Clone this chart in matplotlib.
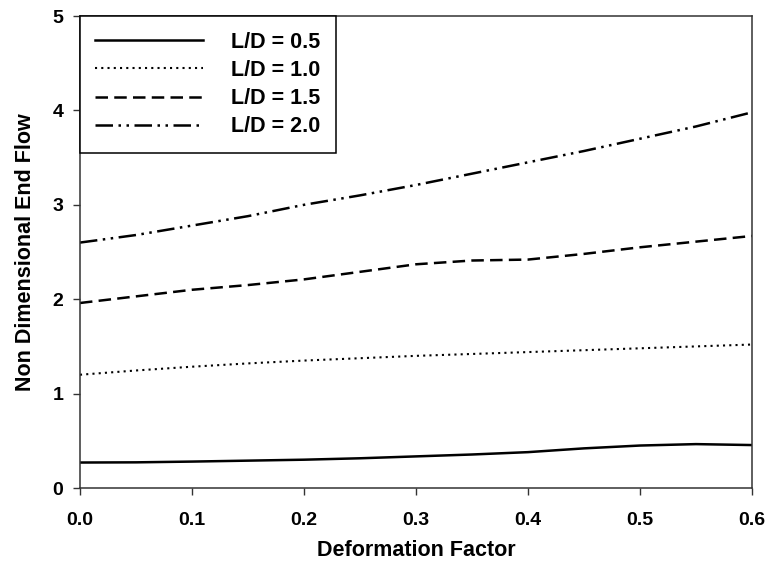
import numpy as np
import matplotlib.pyplot as plt

plt.rcParams['font.family'] = ['Liberation Sans', 'DejaVu Sans']
plt.rcParams['font.weight'] = 'bold'

# deformation factor (x) and end flow for each L/D ratio
deform = [0.0, 0.05, 0.1, 0.15, 0.2, 0.25, 0.3, 0.35, 0.4, 0.45, 0.5, 0.55, 0.6]
flow_05 = [0.27, 0.272, 0.28, 0.29, 0.30, 0.315, 0.335, 0.355, 0.38, 0.42, 0.45, 0.465, 0.455]
flow_10 = [1.20, 1.245, 1.285, 1.32, 1.35, 1.375, 1.40, 1.42, 1.44, 1.46, 1.48, 1.50, 1.52]
flow_15 = [1.96, 2.03, 2.10, 2.15, 2.21, 2.29, 2.37, 2.41, 2.42, 2.48, 2.55, 2.61, 2.67]
flow_20 = [2.60, 2.68, 2.78, 2.88, 3.00, 3.10, 3.21, 3.33, 3.45, 3.57, 3.70, 3.83, 3.98]
labels = ['L/D = 0.5', 'L/D = 1.0', 'L/D = 1.5', 'L/D = 2.0']

fig = plt.figure(figsize=(7.72, 5.74), dpi=100)
ax = fig.add_axes([0.1036, 0.1498, 0.8705, 0.8223])

ax.plot(deform, flow_05, color='black', lw=1.8, ls='-', label=labels[0])
ax.plot(deform, flow_10, color='black', lw=1.5, ls=(0, (1, 2.0)), label=labels[1])
ax.plot(deform, flow_15, color='black', lw=1.8, ls=(0, (5, 2.5)), label=labels[2])
ax.plot(deform, flow_20, color='black', lw=1.8, ls=(0, (7, 2.2, 1, 2.2, 1, 2.2)), label=labels[3])

ax.set_xlim(0, 0.6)
ax.set_ylim(0, 5)
ax.set_xticks(np.arange(0, 0.61, 0.1))
ax.set_xticklabels(['0.0', '0.1', '0.2', '0.3', '0.4', '0.5', '0.6'])
ax.set_yticks(range(6))
ax.tick_params(direction='out', length=5, width=1, color='#333333', labelsize=14)
ax.tick_params(axis='x', pad=12)
ax.tick_params(axis='y', pad=7)
for lab in ax.get_xticklabels() + ax.get_yticklabels():
    lab.set_fontweight('bold')
for sp in ax.spines.values():
    sp.set_linewidth(1.1)
    sp.set_color('#333333')

ax.set_xlabel('Deformation Factor', fontsize=15.5, fontweight='bold', labelpad=8)
ax.set_ylabel('Non Dimensional End Flow', fontsize=15.5, fontweight='bold', labelpad=12)

leg = ax.legend(loc='upper left', borderaxespad=0, fancybox=False, framealpha=1,
                edgecolor='black', fontsize=15.5, handlelength=5.0, handletextpad=1.3,
                labelspacing=0.34, borderpad=0.72)
leg.get_frame().set_linewidth(1.1)
for t in leg.get_texts():
    t.set_fontweight('bold')

fig.savefig('out.png', dpi=100)
